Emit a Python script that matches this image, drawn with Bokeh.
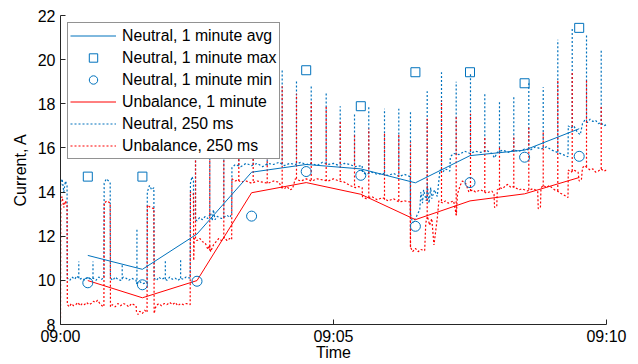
from bokeh.plotting import figure
from bokeh.models import Range1d, FixedTicker, Legend, LegendItem
from bokeh.embed import file_html
from bokeh.resources import INLINE

# time axis: minutes after 09:00
minute_t = [0.5, 1.5, 2.5, 3.5, 4.5, 5.5, 6.5, 7.5, 8.5, 9.5]
neutral_avg = [11.13, 10.5, 12.1, 14.9, 15.25, 15.05, 14.42, 15.65, 15.9, 16.87]
neutral_max = [14.7, 14.7, 17.6, 19.0, 19.52, 17.89, 19.43, 19.43, 18.93, 21.44]
neutral_min = [9.89, 9.8, 9.96, 12.91, 14.93, 14.76, 12.45, 14.43, 15.58, 15.62]
unbalance_1min = [9.99, 9.21, 9.99, 13.97, 14.43, 13.9, 12.75, 13.6, 13.92, 14.66]

# 250 ms traces (minute, ampere)
neutral_250 = [
    (0.0, 14.3), (0.03, 14.6), (0.06, 14.0), (0.09, 14.5), (0.12, 14.3),
    (0.125, 10.1), (0.17, 10.0), (0.21, 10.15), (0.26, 10.05), (0.3, 10.2), (0.35, 10.05), (0.4, 10.1),
    (0.45, 10.0), (0.5, 10.15), (0.55, 10.05), (0.6, 10.1), (0.65, 10.0), (0.7, 10.15), (0.75, 10.05), (0.795, 10.1),
    (0.8, 14.4), (0.84, 14.6), (0.88, 14.5), (0.91, 14.4),
    (0.915, 10.1), (0.96, 10.0), (1.0, 10.15), (1.05, 10.05), (1.1, 10.0), (1.15, 10.15), (1.2, 10.1),
    (1.25, 10.0), (1.3, 10.1), (1.385, 10.0),
    (1.39, 9.85), (1.45, 9.95), (1.5, 9.85), (1.585, 9.9),
    (1.59, 14.0), (1.63, 14.3), (1.67, 14.1), (1.71, 14.2),
    (1.715, 10.1), (1.76, 10.0), (1.8, 10.15), (1.85, 10.05), (1.9, 10.1), (1.95, 10.0), (2.0, 10.15),
    (2.05, 10.05), (2.1, 10.1), (2.15, 10.0), (2.2, 10.1), (2.25, 10.05), (2.3, 10.15), (2.375, 10.1),
    (2.38, 14.4), (2.41, 14.7), (2.435, 14.5),
    (2.44, 12.8), (2.5, 12.7), (2.55, 12.85), (2.6, 12.75), (2.65, 12.9), (2.7, 12.8), (2.75, 13.05),
    (2.78, 12.7), (2.8, 13.2), (2.83, 12.75), (2.87, 12.9), (2.95, 12.8), (3.05, 12.95), (3.1, 12.85), (3.135, 13.0),
    (3.14, 15.1), (3.2, 15.25), (3.3, 15.15), (3.4, 15.3), (3.5, 15.2), (3.6, 15.3), (3.7, 15.15), (3.8, 15.3),
    (3.9, 15.25), (4.0, 15.35), (4.1, 15.2), (4.2, 15.3), (4.3, 15.25), (4.4, 15.35), (4.5, 15.25),
    (4.6, 15.3), (4.7, 15.2), (4.8, 15.35), (4.9, 15.25), (5.0, 15.3), (5.1, 15.2), (5.2, 15.3), (5.3, 15.25),
    (5.4, 15.15), (5.525, 15.2),
    (5.53, 14.9), (5.6, 14.8), (5.7, 14.9), (5.8, 14.8), (5.9, 14.85), (6.0, 14.75), (6.1, 14.85),
    (6.2, 14.7), (6.3, 14.8), (6.405, 14.7),
    (6.41, 13.0), (6.45, 12.6), (6.5, 12.8), (6.58, 13.2),
    (6.6, 14.0), (6.63, 13.5), (6.65, 14.1), (6.7, 13.6), (6.72, 14.3), (6.75, 13.5), (6.78, 14.2),
    (6.8, 13.7), (6.85, 14.1), (6.9, 13.8),
    (6.95, 15.0), (7.0, 14.9), (7.05, 15.05), (7.13, 14.95),
    (7.14, 15.6), (7.2, 15.75), (7.3, 15.7), (7.4, 15.85), (7.5, 15.75), (7.6, 15.85), (7.7, 15.8),
    (7.8, 15.9), (7.9, 15.75), (7.95, 15.55), (8.0, 15.8), (8.1, 15.9), (8.2, 15.8), (8.3, 15.9),
    (8.4, 15.85), (8.5, 15.95), (8.6, 15.9), (8.7, 16.05), (8.8, 15.95), (8.9, 16.05), (9.0, 15.9),
    (9.1, 15.8), (9.2, 15.7), (9.295, 15.6),
    (9.3, 17.0), (9.35, 16.9), (9.4, 17.0), (9.47, 16.7), (9.52, 16.6), (9.56, 17.1), (9.6, 17.25),
    (9.65, 17.15), (9.7, 17.3), (9.75, 17.2), (9.8, 17.25), (9.85, 17.1), (9.9, 17.15), (9.95, 17.0), (10.0, 17.05),
]
unbalance_250 = [
    (0.0, 8.3), (0.005, 13.6), (0.03, 13.8), (0.06, 13.3), (0.09, 13.6), (0.12, 13.4),
    (0.125, 8.9), (0.16, 8.8), (0.2, 8.95), (0.24, 8.85), (0.28, 8.9), (0.32, 9.0), (0.36, 8.85),
    (0.4, 8.95), (0.44, 8.9), (0.48, 9.0), (0.52, 8.9), (0.56, 8.95), (0.6, 9.05), (0.64, 9.0),
    (0.68, 9.1), (0.72, 8.95), (0.76, 8.85), (0.795, 8.8),
    (0.8, 13.5), (0.85, 13.6), (0.91, 13.5),
    (0.915, 8.8), (0.95, 8.9), (1.0, 8.8), (1.05, 8.95), (1.1, 8.85), (1.15, 8.95), (1.2, 8.9),
    (1.25, 8.8), (1.3, 8.95), (1.385, 8.85),
    (1.39, 8.6), (1.42, 8.45), (1.45, 8.6), (1.5, 8.5), (1.54, 8.65), (1.585, 8.55),
    (1.59, 13.4), (1.65, 13.3), (1.71, 13.25),
    (1.715, 8.5), (1.75, 8.85), (1.8, 8.95), (1.85, 8.85), (1.9, 8.95), (1.95, 8.9), (2.0, 9.0),
    (2.05, 8.9), (2.1, 9.0), (2.15, 8.85), (2.2, 8.95), (2.25, 8.9), (2.3, 8.95), (2.375, 8.9),
    (2.38, 14.0), (2.435, 13.9),
    (2.44, 10.9), (2.45, 11.9), (2.5, 11.8), (2.55, 11.9), (2.6, 11.75), (2.65, 11.7), (2.7, 11.4),
    (2.73, 11.6), (2.75, 11.3), (2.8, 11.6), (2.85, 11.75), (2.9, 11.9), (2.95, 11.8), (3.0, 11.95),
    (3.05, 11.8), (3.1, 11.9), (3.135, 11.85),
    (3.14, 14.6), (3.2, 14.5), (3.25, 14.55), (3.3, 14.45), (3.4, 14.5), (3.5, 14.4), (3.6, 14.5),
    (3.7, 14.45), (3.8, 14.4), (3.9, 14.5), (4.0, 14.45), (4.05, 14.2), (4.1, 14.15), (4.15, 14.25),
    (4.2, 14.1), (4.25, 14.15), (4.3, 14.6), (4.4, 14.5), (4.5, 14.6), (4.6, 14.5), (4.7, 14.6),
    (4.8, 14.55), (4.9, 14.5), (5.0, 14.6), (5.1, 14.5), (5.2, 14.45), (5.3, 14.3), (5.4, 14.2),
    (5.45, 14.25), (5.525, 14.2),
    (5.53, 13.8), (5.6, 13.7), (5.7, 13.8), (5.8, 13.65), (5.9, 13.75), (6.0, 13.6), (6.1, 13.7),
    (6.2, 13.55), (6.3, 13.6), (6.405, 13.55),
    (6.41, 11.5), (6.45, 11.3), (6.5, 11.45), (6.55, 11.3), (6.6, 11.4), (6.67, 11.35),
    (6.69, 12.6), (6.72, 12.9), (6.76, 12.5), (6.8, 12.8), (6.84, 11.6), (6.87, 12.2), (6.9, 12.8),
    (6.93, 13.6), (7.0, 13.5), (7.05, 13.6), (7.1, 13.5), (7.2, 13.6), (7.25, 12.95), (7.27, 13.9),
    (7.32, 14.3), (7.36, 14.5), (7.42, 14.4), (7.48, 14.0), (7.55, 14.1), (7.6, 14.0), (7.7, 14.1),
    (7.8, 13.95), (7.9, 14.05), (7.94, 13.9),
    (7.95, 13.3), (7.99, 13.35),
    (8.0, 14.1), (8.05, 14.2), (8.1, 14.15), (8.15, 14.3), (8.2, 14.35), (8.25, 14.2), (8.3, 14.25),
    (8.4, 14.1), (8.45, 14.15), (8.55, 14.05), (8.65, 14.15), (8.74, 14.05),
    (8.75, 13.25), (8.79, 13.3),
    (8.8, 14.2), (8.85, 14.3), (8.9, 14.2), (8.95, 14.3), (9.0, 14.2), (9.05, 14.1), (9.1, 14.05),
    (9.15, 13.95), (9.2, 13.9), (9.295, 13.75),
    (9.3, 15.0), (9.35, 14.9), (9.4, 15.0), (9.48, 14.9), (9.5, 14.5), (9.54, 14.55), (9.56, 15.1),
    (9.6, 15.2), (9.65, 15.1), (9.7, 15.0), (9.75, 15.05), (9.8, 14.9), (9.85, 14.95), (9.9, 15.05),
    (9.95, 14.95), (10.0, 15.0),
]

# single-sample spikes in the 250 ms traces
neutral_spike_t = [0.335, 0.595, 1.13, 1.40, 1.92, 2.2,
                   2.473, 2.734, 2.991, 3.266, 3.529, 3.786, 4.060, 4.322, 4.592, 4.866, 5.123, 5.385,
                   5.646, 5.934, 6.196, 6.410, 6.716, 6.978, 7.247, 7.509, 7.771, 8.040, 8.302, 8.577,
                   8.841, 9.108, 9.372, 9.634, 9.903]
neutral_spike_lo = [10.1, 10.1, 10.05, 9.85, 10.05, 10.1,
                    12.8, 12.9, 12.85, 15.2, 15.25, 15.2, 15.25, 15.3, 15.25, 15.3, 15.3, 15.25,
                    14.85, 14.85, 14.8, 13.0, 13.6, 15.0, 15.7, 15.8, 15.8, 15.8, 15.85, 15.95,
                    16.0, 15.8, 16.95, 17.2, 17.05]
neutral_spike_hi = [10.85, 10.85, 10.75, 12.3, 10.87, 10.97,
                    18.0, 17.8, 18.2, 17.6, 18.4, 17.9, 19.52, 19.1, 18.83, 18.5, 17.89, 17.6,
                    17.88, 17.77, 17.77, 17.7, 18.57, 19.43, 19.0, 19.43, 18.48, 18.1, 18.38, 18.93,
                    18.75, 20.9, 21.44, 21.1, 20.4]
unbalance_spike_t = [2.473, 2.734, 2.991, 3.266, 3.529, 3.786, 4.060, 4.322, 4.592, 4.866, 5.123, 5.385,
                     5.646, 5.934, 6.196, 6.410, 6.716, 6.978, 7.247, 7.509, 7.771, 8.040, 8.302, 8.577,
                     8.841, 9.108, 9.372, 9.634, 9.903]
unbalance_spike_lo = [11.9, 11.35, 11.9, 14.5, 14.5, 14.4, 14.2, 14.6, 14.55, 14.5, 14.55, 14.3,
                      13.75, 13.65, 13.6, 11.5, 12.9, 13.6, 12.95, 14.05, 14.0, 14.1, 14.2, 14.1,
                      14.25, 14.05, 14.95, 15.15, 15.05]
unbalance_spike_hi = [17.0, 16.8, 17.2, 16.9, 17.5, 17.0, 18.8, 18.45, 18.15, 17.85, 17.24, 16.56,
                      16.87, 16.64, 16.6, 16.26, 17.32, 18.15, 17.4, 17.55, 16.5, 16.03, 16.56, 16.94,
                      16.7, 19.05, 19.4, 19.05, 17.9]

x_tick_vals = [0, 5, 10]
x_tick_labels = ["09:00", "09:05", "09:10"]
y_tick_vals = [8, 10, 12, 14, 16, 18, 20, 22]

BLUE = "#0072BD"
RED = "#FF0000"
AX = "#262626"
FONT = "Liberation Sans"
DOT = "2 2"

p = figure(width=638, height=364, output_backend="svg", toolbar_location=None,
           x_range=Range1d(0, 10), y_range=Range1d(8, 22),
           min_border_left=60, min_border_right=32, min_border_top=15, min_border_bottom=40)
p.outline_line_color = None
p.xgrid.visible = False
p.ygrid.visible = False
p.background_fill_color = "white"

nt = [a for a, b in neutral_250]
nv = [b for a, b in neutral_250]
ut = [a for a, b in unbalance_250]
uv = [b for a, b in unbalance_250]

r_n250 = p.line(nt, nv, line_color=BLUE, line_width=1.2, line_dash=DOT)
p.segment(x0=neutral_spike_t, y0=neutral_spike_lo, x1=neutral_spike_t, y1=neutral_spike_hi,
          line_color=BLUE, line_width=1.2, line_dash=DOT)
r_u250 = p.line(ut, uv, line_color=RED, line_width=1.2, line_dash=DOT)
p.segment(x0=unbalance_spike_t, y0=unbalance_spike_lo, x1=unbalance_spike_t, y1=unbalance_spike_hi,
          line_color=RED, line_width=1.2, line_dash=DOT)

r_avg = p.line(minute_t, neutral_avg, line_color=BLUE, line_width=1)
r_u1 = p.line(minute_t, unbalance_1min, line_color=RED, line_width=1)
r_max = p.scatter(minute_t, neutral_max, marker="square", size=9, fill_color=None,
                  line_color=BLUE, line_width=1)
r_min = p.scatter(minute_t, neutral_min, marker="circle", size=10, fill_color=None,
                  line_color=BLUE, line_width=1)

legend = Legend(items=[
    LegendItem(label="Neutral, 1 minute avg", renderers=[r_avg]),
    LegendItem(label="Neutral, 1 minute max", renderers=[r_max]),
    LegendItem(label="Neutral, 1 minute min", renderers=[r_min]),
    LegendItem(label="Unbalance, 1 minute", renderers=[r_u1]),
    LegendItem(label="Neutral, 250 ms", renderers=[r_n250]),
    LegendItem(label="Unbalance, 250 ms", renderers=[r_u250]),
], location="top_left")
legend.margin = 7
legend.padding = 2
legend.spacing = 1
legend.glyph_width = 46
legend.glyph_height = 21
legend.label_height = 21
legend.label_standoff = 6
legend.label_text_font = FONT
legend.label_text_font_size = "15.8px"
legend.label_text_color = "black"
legend.border_line_color = AX
legend.border_line_width = 1
legend.background_fill_color = "white"
legend.background_fill_alpha = 1.0
p.add_layout(legend, "center")

for ax in (p.xaxis[0], p.yaxis[0]):
    ax.axis_line_color = AX
    ax.major_tick_line_color = AX
    ax.major_tick_in = 5
    ax.major_tick_out = 0
    ax.minor_tick_line_color = None
    ax.major_label_text_font = FONT
    ax.major_label_text_font_size = "16px"
    ax.major_label_text_color = "black"
    ax.axis_label_text_font = FONT
    ax.axis_label_text_font_size = "16px"
    ax.axis_label_text_font_style = "normal"
    ax.axis_label_text_color = "black"

p.xaxis.ticker = FixedTicker(ticks=x_tick_vals)
p.xaxis.major_label_overrides = dict(zip(x_tick_vals, x_tick_labels))
p.xaxis.axis_label = "Time"
p.xaxis.major_label_standoff = 3
p.xaxis.axis_label_standoff = -4
p.yaxis.ticker = FixedTicker(ticks=y_tick_vals)
p.yaxis.axis_label = "Current, A"
p.yaxis.major_label_standoff = 5
p.yaxis.axis_label_standoff = 6

open("out.html", "w").write(file_html(p, INLINE))
